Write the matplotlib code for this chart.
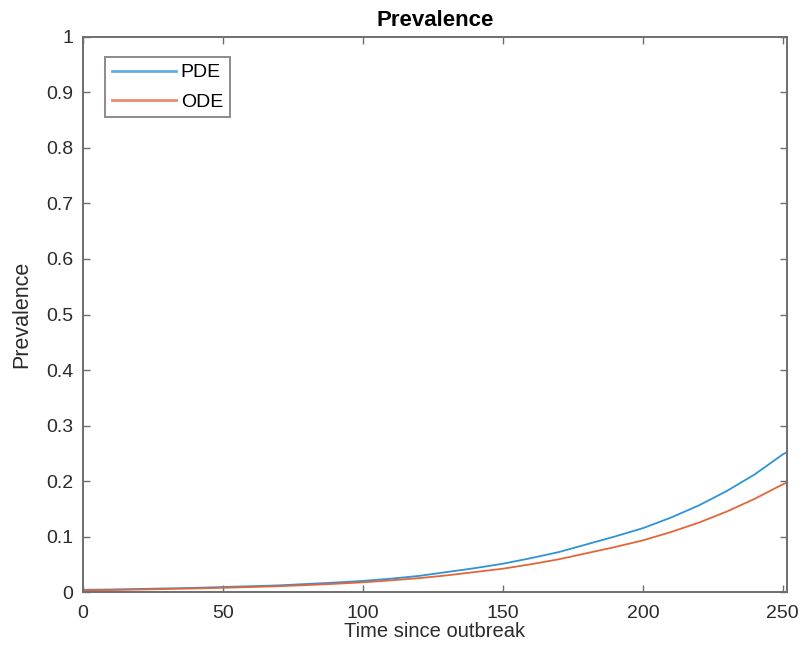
import numpy as np
import matplotlib.pyplot as plt

# time since outbreak and prevalence for the two models
t = [0, 10, 20, 30, 40, 50, 60, 70, 80, 90, 100, 110, 120, 130, 140, 150,
     160, 170, 180, 190, 200, 210, 220, 230, 240, 250, 251.5]
pde = [0.004, 0.0045, 0.0055, 0.0065, 0.0075, 0.009, 0.0105, 0.012, 0.0145,
       0.017, 0.020, 0.024, 0.029, 0.036, 0.043, 0.051, 0.061, 0.072, 0.086,
       0.100, 0.115, 0.134, 0.156, 0.182, 0.212, 0.248, 0.252]
ode = [0.003, 0.0037, 0.0045, 0.0054, 0.0064, 0.0076, 0.009, 0.0105, 0.0125,
       0.0148, 0.0175, 0.021, 0.025, 0.030, 0.036, 0.042, 0.050, 0.059, 0.070,
       0.081, 0.093, 0.108, 0.125, 0.145, 0.168, 0.194, 0.197]
xticks = [0, 50, 100, 150, 200, 250]
yticks = [0, 0.1, 0.2, 0.3, 0.4, 0.5, 0.6, 0.7, 0.8, 0.9, 1]
ylabels = ['0', '0.1', '0.2', '0.3', '0.4', '0.5', '0.6', '0.7', '0.8', '0.9', '1']

plt.rcParams['font.family'] = ['Liberation Sans', 'DejaVu Sans']

fig = plt.figure(figsize=(8.01, 6.64), dpi=100)
ax = fig.add_axes([0.1036, 0.1084, 0.8789, 0.8359])

ax.plot(t, pde, color='#2f93d6', lw=1.3, label='PDE')
ax.plot(t, ode, color='#e2663a', lw=1.3, label='ODE')

ax.set_xlim(0, 251.5)
ax.set_ylim(0, 1)
ax.set_xticks(xticks)
ax.set_yticks(yticks)
ax.set_yticklabels(ylabels)

axcol = '#6e6e6e'
for s in ax.spines.values():
    s.set_color(axcol)
    s.set_linewidth(1.4)
ax.tick_params(direction='in', length=5, width=1, colors=axcol,
               labelcolor='#2b2b2b', labelsize=14, top=True, right=True)
ax.tick_params(axis='y', pad=7)
ax.tick_params(axis='x', pad=9)

ax.set_title('Prevalence', fontsize=16, fontweight='bold', pad=8)
ax.set_xlabel('Time since outbreak', fontsize=14.5, color='#2b2b2b', labelpad=0)
ax.set_ylabel('Prevalence', fontsize=15.5, color='#2b2b2b', labelpad=10)

leg = ax.legend(loc='upper left', bbox_to_anchor=(0.031, 0.964), fontsize=14,
                frameon=True, fancybox=False, handlelength=3.3,
                borderpad=0.35, labelspacing=0.6, handletextpad=0.25,
                borderaxespad=0)
leg.get_frame().set_edgecolor(axcol)
leg.get_frame().set_linewidth(1.4)
for line in leg.get_lines():
    line.set_linewidth(2)
    line.set_alpha(0.75)

fig.savefig('out.png', dpi=100)
